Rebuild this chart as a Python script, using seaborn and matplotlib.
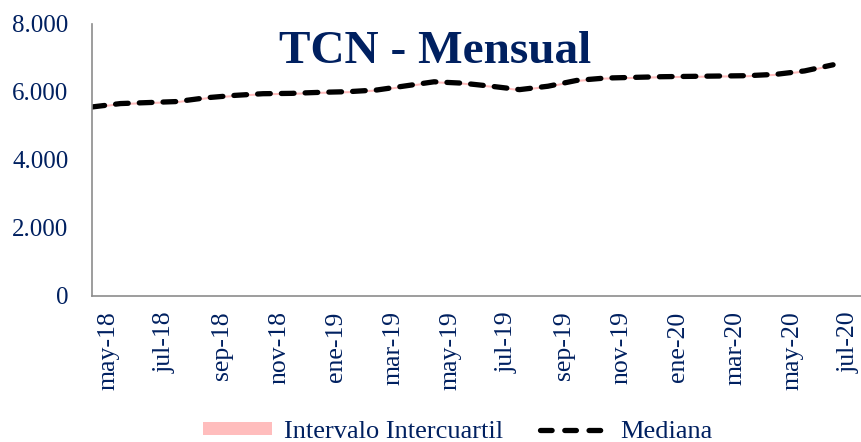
"""
TCN - Mensual: mediana e intervalo intercuartil de las expectativas del tipo de cambio.
"""

import numpy as np
import pandas as pd
import matplotlib
matplotlib.use("Agg")
import matplotlib.pyplot as plt
import matplotlib.transforms as mtransforms
from matplotlib.ticker import FuncFormatter
from matplotlib.patches import Patch
from matplotlib.lines import Line2D
import seaborn as sns


# ---------------------------------------------------------------------------
# Datos
# ---------------------------------------------------------------------------

meses = ["may-18", "jun-18", "jul-18", "ago-18", "sep-18", "oct-18", "nov-18",
         "dic-18", "ene-19", "feb-19", "mar-19", "abr-19", "may-19", "jun-19",
         "jul-19", "ago-19", "sep-19", "oct-19", "nov-19", "dic-19", "ene-20",
         "feb-20", "mar-20", "abr-20", "may-20", "jun-20", "jul-20"]

mediana = [5560, 5660, 5690, 5720, 5830, 5900, 5950, 5960, 5990, 6010, 6060,
           6180, 6300, 6260, 6170, 6070, 6170, 6340, 6410, 6430, 6450, 6460,
           6470, 6480, 6520, 6620, 6800]

q1 = [5530, 5630, 5660, 5690, 5800, 5870, 5920, 5930, 5960, 5980, 6030,
      6150, 6270, 6230, 6140, 6040, 6140, 6310, 6380, 6400, 6420, 6430,
      6440, 6450, 6490, 6590, 6770]

q3 = [5590, 5690, 5720, 5750, 5860, 5930, 5980, 5990, 6020, 6040, 6090,
      6210, 6330, 6290, 6200, 6100, 6200, 6370, 6440, 6460, 6480, 6490,
      6500, 6510, 6550, 6650, 6830]

df = pd.DataFrame({"mes": meses, "mediana": mediana, "q1": q1, "q3": q3})
df["pos"] = np.arange(len(df))

# ---------------------------------------------------------------------------
# Estilo
# ---------------------------------------------------------------------------

sns.set_style("white")
plt.rcParams["font.family"] = ["Liberation Serif", "DejaVu Serif"]

AZUL = "#002060"
ROSA = "#ffbdbd"
GRIS = "#8c8c8c"

fig = plt.figure(figsize=(8.61, 4.42), dpi=100)
ax = fig.add_axes([92 / 861, 1 - 296 / 442, 1 - 92 / 861, (296 - 24) / 442])

# banda intercuartil
ax.fill_between(df["pos"], df["q1"], df["q3"], color=ROSA, linewidth=0)

# mediana
sns.lineplot(data=df, x="pos", y="mediana", ax=ax, color="black",
             linewidth=3.8, linestyle=(0, (2.4, 2.1)),
             dash_capstyle="round", legend=False)

# ejes
ax.set_xlim(0, 26.98)
ax.set_ylim(0, 8000)
ax.set_yticks([0, 2000, 4000, 6000, 8000])
ax.yaxis.set_major_formatter(FuncFormatter(lambda v, _: f"{v:,.0f}".replace(",", ".")))

ticks = df["pos"][::2]
ax.set_xticks(ticks)
ax.set_xticklabels(df["mes"][::2], rotation=90)
ax.set_xlabel("")
ax.set_ylabel("")

ax.tick_params(axis="both", which="major", direction="out", length=5,
               width=1.2, color=GRIS, labelcolor=AZUL)
ax.tick_params(axis="y", pad=12, labelsize=18)
ax.tick_params(axis="x", pad=6, labelsize=18.5)

# desplazar etiquetas del eje x hacia la derecha (como en Excel)
offset = mtransforms.ScaledTranslation(16 / 100, 0, fig.dpi_scale_trans)
for lab in ax.get_xticklabels():
    lab.set_transform(lab.get_transform() + offset)

sns.despine(ax=ax, top=True, right=True)
for side in ["left", "bottom"]:
    ax.spines[side].set_color(GRIS)
    ax.spines[side].set_linewidth(1.2)

# título
fig.text(435 / 861, 1 - 52 / 442, "TCN - Mensual", ha="center", va="center",
         fontsize=34, fontweight="bold", color=AZUL)

# leyenda
handles = [Patch(facecolor=ROSA, edgecolor="none"),
           Line2D([], [], color="black", linewidth=3.8,
                  linestyle=(0, (2.2, 2.4)), dash_capstyle="round")]
leg = fig.legend(handles, ["Intervalo Intercuartil", "Mediana"], ncol=2,
                 loc="center", bbox_to_anchor=(458 / 861, 1 - 432 / 442),
                 frameon=False, fontsize=19, handlelength=2.6,
                 handleheight=0.35, handletextpad=0.45, columnspacing=1.4)
for t in leg.get_texts():
    t.set_color(AZUL)

fig.savefig("out.png", dpi=100)
